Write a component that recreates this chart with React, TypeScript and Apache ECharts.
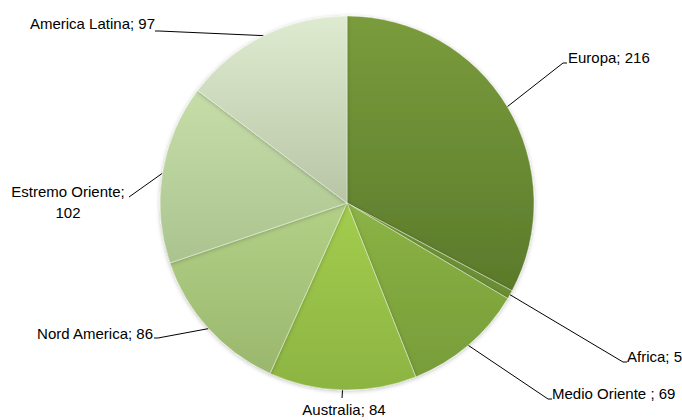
import React, { useEffect, useRef } from "react";
import * as echarts from "echarts";

const categories = ["Europa", "Africa", "Medio Oriente ", "Australia", "Nord America", "Estremo Oriente", "America Latina"];
const values = [216, 5, 69, 84, 86, 102, 97];
const labelTexts = ["Europa; 216", "Africa; 5", "Medio Oriente ; 69", "Australia; 84", "Nord America; 86", "Estremo Oriente;\n102", "America Latina; 97"];

const topColors = ["#7a9c3c", "#739838", "#8bb345", "#a3cd4e", "#b2d187", "#c6dda8", "#dfebd0"];
const bottomColors = ["#5b7a2b", "#698b33", "#779d39", "#8cb442", "#9ab76d", "#abc48f", "#b8c5a5"];

// label anchor positions (layout only)
const labelPos: { x: number; y: number; align: string; lx: number; ly: number }[] = [
  { x: 568, y: 57, align: "left", lx: 563, ly: 63 },
  { x: 627, y: 356, align: "left", lx: 623, ly: 362 },
  { x: 552, y: 393, align: "left", lx: 548, ly: 399 },
  { x: 344, y: 409, align: "center", lx: 342, ly: 398 },
  { x: 153, y: 333, align: "right", lx: 158, ly: 338 },
  { x: 68, y: 202, align: "center", lx: 129, ly: 197 },
  { x: 155, y: 23, align: "right", lx: 159, ly: 31 },
];

export default function App() {
  const ref = useRef<HTMLDivElement>(null);
  useEffect(() => {
    if (!ref.current) return;
    const chart = echarts.init(ref.current, undefined, { renderer: "svg" });
    chart.setOption({
      animation: false,
      backgroundColor: "#ffffff",
      series: [
        {
          type: "pie",
          center: [347, 203],
          radius: 187,
          startAngle: 90,
          clockwise: true,
          avoidLabelOverlap: false,
          data: categories.map((name, i) => ({
            name,
            value: values[i],
            itemStyle: {
              color: new echarts.graphic.LinearGradient(0, 0, 0, 1, [
                { offset: 0, color: topColors[i] },
                { offset: 1, color: bottomColors[i] },
              ]),
            },
            label: { formatter: labelTexts[i] },
          })),
          itemStyle: {
            borderColor: "rgba(255,255,255,0.4)",
            borderWidth: 1,
            shadowBlur: 4,
            shadowColor: "rgba(0,0,0,0.25)",
            shadowOffsetY: 1,
          },
          label: {
            show: true,
            position: "outside",
            fontFamily: "Liberation Sans, Arial, sans-serif",
            fontSize: 15,
            color: "#000000",
            lineHeight: 21,
          },
          labelLine: {
            show: true,
            lineStyle: { color: "#000000", width: 1 },
          },
          labelLayout: (params: any) => {
            const i = params.dataIndex;
            const p = labelPos[i];
            const start = params.labelLinePoints ? params.labelLinePoints[0] : [p.lx, p.ly];
            const dir = p.align === "right" ? -1 : p.align === "left" ? 1 : 0;
            const end = [p.lx + dir * 4, p.ly];
            return {
              x: p.x,
              y: p.y,
              align: p.align,
              verticalAlign: "middle",
              labelLinePoints: [start, [p.lx, p.ly], end],
            };
          },
          emphasis: { disabled: true },
        },
      ],
    });
    return () => chart.dispose();
  }, []);
  return <div ref={ref} style={{ position: "fixed", left: 0, top: 0, width: 682, height: 420 }} />;
}
